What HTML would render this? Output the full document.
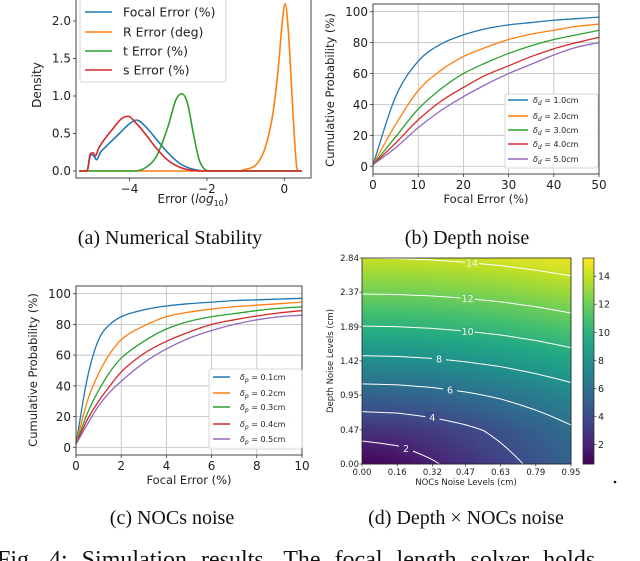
<!DOCTYPE html>
<html><head><meta charset="utf-8"><style>
html,body{margin:0;padding:0;background:#fff;width:640px;height:561px;overflow:hidden}
svg{display:block}
.t{font-family:"DejaVu Sans","Liberation Sans",sans-serif;fill:#222}
.s{font-family:"Liberation Serif",serif;fill:#111}
</style></head><body>
<svg id="fig" width="640" height="561" viewBox="0 0 640 561" xmlns="http://www.w3.org/2000/svg">
<g id="ga"></g>
<g id="gb"></g>
<g id="gc"></g>
<g id="gd"></g>
<text class="s" x="170" y="244" font-size="20" text-anchor="middle">(a) Numerical Stability</text>
<text class="s" x="467" y="244" font-size="20" text-anchor="middle">(b) Depth noise</text>
<text class="s" x="172" y="524" font-size="20" text-anchor="middle">(c) NOCs noise</text>
<text class="s" x="466" y="524" font-size="20" text-anchor="middle">(d) Depth × NOCs noise</text>
<circle cx="615" cy="482" r="1.3" fill="#111"/>
<text class="s" x="-3" y="567" font-size="24" word-spacing="8">Fig. 4: Simulation results. The focal length solver holds</text>
</svg>
<script>
// ---------- Panel (a) data ----------
const aSeriesNames = ["Focal Error (%)","R Error (deg)","t Error (%)","s Error (%)"];
const aFocalX = [-5.3,-5.1,-5.0,-4.92,-4.85,-4.75,-4.6,-4.3,-4.0,-3.82,-3.6,-3.3,-3.0,-2.7,-2.4,-2.0,0.45];
const aFocalY = [0,0,0.22,0.2,0.15,0.25,0.33,0.48,0.63,0.68,0.6,0.42,0.24,0.1,0.03,0,0];
const aRotX = [-5.3,-1.3,-1.0,-0.7,-0.5,-0.3,-0.15,-0.05,0.02,0.1,0.2,0.28,0.33,0.4,0.45];
const aRotY = [0,0,0.02,0.1,0.3,0.75,1.4,2.0,2.23,1.9,1.0,0.3,0.03,0,0];
const aTransX = [-5.3,-3.9,-3.6,-3.3,-3.0,-2.8,-2.65,-2.5,-2.35,-2.2,-2.05,-1.9,0.45];
const aTransY = [0,0,0.04,0.2,0.6,0.95,1.03,0.9,0.5,0.15,0.02,0,0];
const aScaleX = [-5.3,-5.1,-5.0,-4.93,-4.88,-4.8,-4.65,-4.45,-4.2,-4.03,-3.85,-3.6,-3.3,-3.0,-2.7,-2.4,-2.0,0.45];
const aScaleY = [0,0,0.24,0.24,0.2,0.3,0.42,0.55,0.7,0.73,0.65,0.5,0.3,0.14,0.05,0.01,0,0];
const aXTicks = [-4,-2,0];
const aXTickLabels = ["\u22124","\u22122","0"];
const aYTicks = [0,0.5,1,1.5,2];
const aYTickLabels = ["0.0","0.5","1.0","1.5","2.0"];
// ---------- Panel (b) data ----------
const bX = [0,5,10,15,20,25,30,35,40,45,50];
const bD1 = [1,45,68,79,85,89,91.5,93,94.5,95.5,96.5];
const bD2 = [1,27,49,62,71,77,82,85.5,88,90.5,92];
const bD3 = [1,19,37,50,60,67,73,78,82,85,88];
const bD4 = [1,15,30,42,51,59,65,71,76,80,83.5];
const bD5 = [1,12,25,36,45,53,60,66,72,77,80];
const bLabels = ["1.0cm","2.0cm","3.0cm","4.0cm","5.0cm"];
const bXTicks = [0,10,20,30,40,50];
const bYTicks = [0,20,40,60,80,100];
// ---------- Panel (c) data ----------
const cX = [0,0.5,1,1.5,2,3,4,5,6,7,8,9,10];
const cP1 = [2,45,70,80,85,89.5,92,93.5,94.5,95.5,96,96.5,97];
const cP2 = [2,30,48,61,70,79,85,88,90,91.5,92.5,93.5,94.5];
const cP3 = [2,22,37,49,58,69,77,82,85,87,89,90.5,91.5];
const cP4 = [2,18,30,40,49,61,69,75,80,83,85.5,87.5,89];
const cP5 = [2,15,27,36,43,55,64,71,76,80,83,85,86];
const cLabels = ["0.1cm","0.2cm","0.3cm","0.4cm","0.5cm"];
const cXTicks = [0,2,4,6,8,10];
const cYTicks = [0,20,40,60,80,100];
// ---------- Panel (d) data ----------
const dNocs = [0,0.16,0.32,0.47,0.63,0.79,0.95];
const dDepth = [0,0.47,0.95,1.42,1.89,2.37,2.84];
const dZ = [
 [0.6,1.06,1.83,2.61,3.45,4.31,5.16],
 [2.68,2.81,3.19,3.69,4.33,5.04,5.79],
 [5.2,5.27,5.48,5.79,6.21,6.73,7.30],
 [7.64,7.69,7.83,8.05,8.36,8.75,9.20],
 [9.95,9.99,10.10,10.27,10.51,10.83,11.24],
 [12.12,12.15,12.24,12.38,12.58,12.85,13.16],
 [14.0,14.03,14.11,14.23,14.41,14.64,14.92]];
const dLevels = [2,4,6,8,10,12,14];
const dLabelX = [0.2,0.32,0.4,0.35,0.48,0.48,0.5];
const dCbTicks = [2,4,6,8,10,12,14];

const NS="http://www.w3.org/2000/svg";
function mk(parent,tag,attrs){const e=document.createElementNS(NS,tag);for(const k in attrs)e.setAttribute(k,attrs[k]);parent.appendChild(e);return e;}
function lin(d0,d1,r0,r1){return v=>r0+(v-d0)/(d1-d0)*(r1-r0);}
// monotone cubic (Fritsch-Carlson) smoothing through data points
function pathD(xs,ys,sx,sy){
 const n=xs.length;const X=xs.map(sx),Y=ys.map(sy);
 if(n<3)return X.map((x,i)=>(i?"L":"M")+x.toFixed(2)+","+Y[i].toFixed(2)).join("");
 const d=[],m=new Array(n);
 for(let i=0;i<n-1;i++)d.push((Y[i+1]-Y[i])/(X[i+1]-X[i]));
 m[0]=d[0];m[n-1]=d[n-2];
 for(let i=1;i<n-1;i++){m[i]=(d[i-1]*d[i]<=0)?0:(d[i-1]+d[i])/2;}
 for(let i=0;i<n-1;i++){if(d[i]===0){m[i]=0;m[i+1]=0;continue;}
  const a=m[i]/d[i],b=m[i+1]/d[i],s=a*a+b*b;if(s>9){const t=3/Math.sqrt(s);m[i]=t*a*d[i];m[i+1]=t*b*d[i];}}
 let p="M"+X[0].toFixed(2)+","+Y[0].toFixed(2);
 for(let i=0;i<n-1;i++){const h=(X[i+1]-X[i])/3;
  p+="C"+(X[i]+h).toFixed(2)+","+(Y[i]+m[i]*h).toFixed(2)+" "+(X[i+1]-h).toFixed(2)+","+(Y[i+1]-m[i+1]*h).toFixed(2)+" "+X[i+1].toFixed(2)+","+Y[i+1].toFixed(2);}
 return p;}
const COLORS=["#1f77b4","#ff7f0e","#2ca02c","#d62728","#9467bd"];

// ===== Panel A =====
(function(){
 const g=document.getElementById('ga');
 const L=76,R=311,T=-2,B=178;
 const sx=lin(-4,0,129.5,284.3), sy=lin(0,2,171,21);
 const fr=mk(g,'rect',{x:L,y:T,width:R-L,height:B-T,fill:'none',stroke:'#333','stroke-width':0.9});
 
 aXTicks.forEach((v,i)=>{const x=sx(v);
  mk(g,'line',{x1:x,y1:B,x2:x,y2:B+3,stroke:'#333','stroke-width':0.8});
  const t=mk(g,'text',{x:x,y:B+15,'font-size':12,'text-anchor':'middle',class:'t'});t.textContent=aXTickLabels[i];
  });
 aYTicks.forEach((v,i)=>{const y=sy(v);
  mk(g,'line',{x1:L-3,y1:y,x2:L,y2:y,stroke:'#333','stroke-width':0.8});
  const t=mk(g,'text',{x:L-5,y:y+4,'font-size':12,'text-anchor':'end',class:'t'});t.textContent=aYTickLabels[i];
  });
 const sets=[[aFocalX,aFocalY],[aRotX,aRotY],[aTransX,aTransY],[aScaleX,aScaleY]];
 [0,1,2,3].forEach(i=>{const p=mk(g,'path',{d:pathD(sets[i][0],sets[i][1],sx,sy),fill:'none',stroke:COLORS[i],'stroke-width':1.6,'stroke-linejoin':'round'});
  });
 const lg=mk(g,'g',{});
 mk(lg,'rect',{x:80,y:-3,width:146,height:85,fill:'#fff','fill-opacity':0.85,stroke:'#ccc','stroke-width':0.8,rx:2});
 [12,32,51,70].forEach((y,i)=>{mk(lg,'line',{x1:85,y1:y,x2:112,y2:y,stroke:COLORS[i],'stroke-width':1.6});
  const t=mk(lg,'text',{x:123,y:y+4.5,'font-size':12.5,class:'t'});t.textContent=aSeriesNames[i];
  });
 const yl=mk(g,'text',{x:0,y:0,'font-size':12,'text-anchor':'middle',class:'t',transform:'translate(41,85) rotate(-90)'});yl.textContent='Density';
 
 const xl=mk(g,'text',{x:193,y:203,'font-size':12,'text-anchor':'middle',class:'t'});
 xl.innerHTML='Error (<tspan font-style="italic">log</tspan><tspan font-size="8" dy="3">10</tspan><tspan dy="-3">)</tspan>';
 
})();

// ===== CDF panels (B, C) =====
function cdfPanel(gid,L,R,T,B,xmax,xs,series,xTicks,yTicks,legBox,legY,legLine,legText,sym,labels,ylx,yly,xlx,xly,fs,suffix){
 const g=document.getElementById(gid);
 const sx=lin(0,xmax,L,R), sy=lin(-5,105,B,T);
 xTicks.forEach(v=>{const x=sx(v);mk(g,'line',{x1:x,y1:T,x2:x,y2:B,stroke:'#c4c4c4','stroke-width':0.9});
  mk(g,'line',{x1:x,y1:B,x2:x,y2:B+3,stroke:'#333','stroke-width':0.8});
  const t=mk(g,'text',{x:x,y:B+15,'font-size':fs,'text-anchor':'middle',class:'t'});t.textContent=String(v);
  });
 yTicks.forEach(v=>{const y=sy(v);mk(g,'line',{x1:L,y1:y,x2:R,y2:y,stroke:'#c4c4c4','stroke-width':0.9});
  mk(g,'line',{x1:L-3,y1:y,x2:L,y2:y,stroke:'#333','stroke-width':0.8});
  const t=mk(g,'text',{x:L-5,y:y+4.5,'font-size':fs,'text-anchor':'end',class:'t'});t.textContent=String(v);
  });
 series.forEach((ys,i)=>{const p=mk(g,'path',{d:pathD(xs,ys,sx,sy),fill:'none',stroke:COLORS[i],'stroke-width':1.3,'stroke-linejoin':'round'});
  });
 const fr=mk(g,'rect',{x:L,y:T,width:R-L,height:B-T,fill:'none',stroke:'#333','stroke-width':0.9});
 
 const lg=mk(g,'g',{});
 mk(lg,'rect',{x:legBox[0],y:legBox[1],width:legBox[2],height:legBox[3],fill:'#fff','fill-opacity':0.9,stroke:'#ccc','stroke-width':0.8,rx:2});
 legY.forEach((y,i)=>{mk(lg,'line',{x1:legLine[0],y1:y,x2:legLine[1],y2:y,stroke:COLORS[i],'stroke-width':1.4});
  const t=mk(lg,'text',{x:legText,y:y+3,'font-size':8,class:'t'});
  t.innerHTML='<tspan font-style="italic">δ</tspan><tspan font-size="6" dy="2" font-style="italic">'+sym+'</tspan><tspan dy="-2"> = '+labels[i]+'</tspan>';
  });
 const yl=mk(g,'text',{x:0,y:0,'font-size':11.5,'text-anchor':'middle',class:'t',transform:'translate('+ylx+','+yly+') rotate(-90)'});yl.textContent='Cumulative Probability (%)';
 
 const xl=mk(g,'text',{x:xlx,y:xly,'font-size':11.5,'text-anchor':'middle',class:'t'});xl.textContent='Focal Error (%)';
 
}
cdfPanel('gb',373,599,4,174,50,bX,[bD1,bD2,bD3,bD4,bD5],bXTicks,bYTicks,[505,94,93,74],[100,116,130,144,159],[508,528],533,'d',bLabels,334,90,486,203,12,'b');
cdfPanel('gc',76,302,286,455,10,cX,[cP1,cP2,cP3,cP4,cP5],cXTicks,cYTicks,[209,369,93,80],[377,393,407,424,439],[213,230],240,'p',cLabels,37,370,189,484,12,'c');

// ===== Panel D =====
(function(){
 const g=document.getElementById('gd');
 const L=362,R=571,T=258,B=464;
 const sx=lin(0,0.95,L,R), sy=lin(0,2.84,B,T);
 const VMIN=0.6,VMAX=15.3;
 const vir=[[68,1,84],[72,36,117],[65,68,135],[53,95,141],[42,120,142],[33,145,140],[34,168,132],[68,191,112],[122,209,81],[189,223,38],[253,231,37]];
 function col(v){let t=(v-VMIN)/(VMAX-VMIN);t=Math.max(0,Math.min(1,t))*10;const i=Math.min(9,Math.floor(t)),f=t-i;
  const a=vir[i],b=vir[i+1];return 'rgb('+a.map((c,k)=>Math.round(c+(b[k]-c)*f)).join(',')+')';}
 function idx(arr,v){let i=0;while(i<arr.length-2&&v>arr[i+1])i++;return [i,(v-arr[i])/(arr[i+1]-arr[i])];}
 function z(x,y){const [i,fx]=idx(dNocs,x),[j,fy]=idx(dDepth,y);
  const a=dZ[j][i],b=dZ[j][i+1],c=dZ[j+1][i],d=dZ[j+1][i+1];
  return a*(1-fx)*(1-fy)+b*fx*(1-fy)+c*(1-fx)*fy+d*fx*fy;}
 const N=60, xmax=dNocs[dNocs.length-1], ymax=dDepth[dDepth.length-1];
 const hm=mk(g,'g',{});
 const cw=(R-L)/N,ch=(B-T)/N;
 for(let j=0;j<N;j++)for(let i=0;i<N;i++){
  const x=(i+0.5)/N*xmax,y=(j+0.5)/N*ymax;
  mk(hm,'rect',{x:(L+i*cw).toFixed(2),y:(B-(j+1)*ch).toFixed(2),width:(cw+0.4).toFixed(2),height:(ch+0.4).toFixed(2),fill:col(z(x,y))});}
 const M=80;const gv=[];
 for(let j=0;j<=M;j++){gv.push([]);for(let i=0;i<=M;i++)gv[j].push(z(i/M*xmax,j/M*ymax));}
 dLevels.forEach((lv,li)=>{
  let d='';
  for(let j=0;j<M;j++)for(let i=0;i<M;i++){
   const c=[[i,j],[i+1,j],[i+1,j+1],[i,j+1]];const pts=[];
   for(let k=0;k<4;k++){const p=c[k],q=c[(k+1)%4];const vp=gv[p[1]][p[0]],vq=gv[q[1]][q[0]];
    if((vp<lv)!==(vq<lv)){const t=(lv-vp)/(vq-vp);pts.push([p[0]+(q[0]-p[0])*t,p[1]+(q[1]-p[1])*t]);}}
   for(let k=0;k+1<pts.length;k+=2){const P=pts[k],Q=pts[k+1];
    d+='M'+sx(P[0]/M*xmax).toFixed(2)+','+sy(P[1]/M*ymax).toFixed(2)+'L'+sx(Q[0]/M*xmax).toFixed(2)+','+sy(Q[1]/M*ymax).toFixed(2);}
  }
  const p=mk(g,'path',{d:d,fill:'none',stroke:'#fff','stroke-width':1,'stroke-linecap':'round'});
  
  const lx=dLabelX[li];let lo=0,hi=ymax;
  for(let k=0;k<40;k++){const m=(lo+hi)/2;if(z(lx,m)<lv)lo=m;else hi=m;}
  const px=sx(lx),py=sy(lo);
  mk(g,'rect',{x:px-7,y:py-5,width:14,height:10,fill:col(lv)});
  const t=mk(g,'text',{x:px,y:py+3.5,'font-size':9.5,'text-anchor':'middle',class:'t',style:'fill:#f4f4f4'});t.textContent=String(lv);
  
 });
 const fr=mk(g,'rect',{x:L,y:T,width:R-L,height:B-T,fill:'none',stroke:'#222','stroke-width':0.8});
 
 dNocs.forEach(v=>{const x=sx(v);mk(g,'line',{x1:x,y1:B,x2:x,y2:B+2.5,stroke:'#333','stroke-width':0.7});
  const t=mk(g,'text',{x:x,y:B+11,'font-size':8.5,'text-anchor':'middle',class:'t'});t.textContent=v.toFixed(2);
  });
 dDepth.forEach(v=>{const y=sy(v);mk(g,'line',{x1:L-2.5,y1:y,x2:L,y2:y,stroke:'#333','stroke-width':0.7});
  const t=mk(g,'text',{x:L-3,y:y+3,'font-size':8.5,'text-anchor':'end',class:'t'});t.textContent=v.toFixed(2);
  });
 const yl=mk(g,'text',{x:0,y:0,'font-size':8.5,'text-anchor':'middle',class:'t',transform:'translate(333,361) rotate(-90)'});yl.textContent='Depth Noise Levels (cm)';
 
 const xl=mk(g,'text',{x:466,y:485,'font-size':8.5,'text-anchor':'middle',class:'t'});xl.textContent='NOCs Noise Levels (cm)';
 
 const cb=mk(g,'g',{});
 const cL=583,cR=594;const cy=lin(VMIN,VMAX,B,T);
 const K=80;for(let k=0;k<K;k++){const v=VMIN+(k+0.5)/K*(VMAX-VMIN);const h=(B-T)/K;
  mk(cb,'rect',{x:cL,y:(B-(k+1)*h).toFixed(2),width:cR-cL,height:(h+0.4).toFixed(2),fill:col(v)});}
 mk(cb,'rect',{x:cL,y:T,width:cR-cL,height:B-T,fill:'none',stroke:'#222','stroke-width':0.7});
 dCbTicks.forEach(v=>{const y=cy(v);mk(cb,'line',{x1:cR,y1:y,x2:cR+2.5,y2:y,stroke:'#333','stroke-width':0.7});
  const t=mk(cb,'text',{x:cR+4,y:y+3.5,'font-size':9.5,class:'t'});t.textContent=String(v);
  });
})();
</script>
</body></html>
